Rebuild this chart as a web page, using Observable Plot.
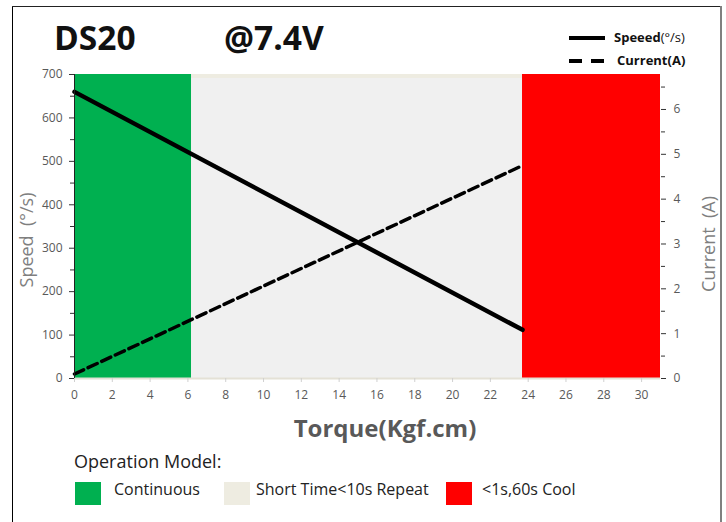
<!DOCTYPE html>
<html>
<head>
<meta charset="utf-8">
<script src="https://cdn.jsdelivr.net/npm/d3@7"></script>
<script src="https://cdn.jsdelivr.net/npm/@observablehq/plot@0.6"></script>
<style>
  html, body { margin: 0; padding: 0; background: #fff; }
  #page { position: relative; width: 726px; height: 522px; overflow: hidden; font-family: "Open Sans", sans-serif; background: #fff; }
  .abs { position: absolute; white-space: nowrap; }
  #frameL { position: absolute; left: 12px; top: 6px; width: 1px; height: 520px; background: #000; }
  #frameT { position: absolute; left: 12px; top: 6px; width: 708px; height: 1px; background: #222; }
  #frameR { position: absolute; left: 720px; top: 6px; width: 2px; height: 520px; background: #808080; }
  #chart { position: absolute; left: 0; top: 0; }
  .title { font-weight: 700; font-size: 33.5px; color: #111; top: 14px; }
  .leg { font-weight: 700; font-size: 13px; color: #111; }
  .leg span { font-weight: 400; }
  .axt { color: #7f7f7f; font-size: 18px; transform: translate(-50%, -50%) rotate(-90deg); }
  .sw { position: absolute; width: 26px; height: 23px; top: 482px; }
  .lt { font-size: 16px; color: #222; top: 478px; }
</style>
</head>
<body>
<div id="page">
  <div id="chart"></div>
  <div id="frameL"></div><div id="frameT"></div><div id="frameR"></div>
  <div class="abs title" style="left:54px;">DS20</div>
  <div class="abs title" style="left:224px;">@7.4V</div>
  <div class="abs leg" style="left:614px; top:28px;">Speeed<span>(°/s)</span></div>
  <div class="abs leg" style="left:617px; top:51px;">Current(A)</div>
  <div class="abs axt" style="left:26px; top:240px;">Speed&nbsp;&nbsp;(°/s)</div>
  <div class="abs axt" style="left:708px; top:244px;">Current&nbsp;&nbsp;(A)</div>
  <div class="abs" style="left:385px; top:427px; transform:translate(-50%,-50%); font-weight:700; font-size:24px; color:#595959;">Torque(Kgf.cm)</div>
  <div class="abs" style="left:74px; top:449px; font-size:18px; color:#222;">Operation Model:</div>
  <div class="sw" style="left:75px; background:#00B050;"></div>
  <div class="abs lt" style="left:114px;">Continuous</div>
  <div class="sw" style="left:224px; background:#EEECE1;"></div>
  <div class="abs lt" style="left:256px;">Short Time&lt;10s Repeat</div>
  <div class="sw" style="left:446px; background:#FF0000;"></div>
  <div class="abs lt" style="left:482px;">&lt;1s,60s Cool</div>
</div>
<script>
// ---- data ----
const torque = [0, 23.7];
const speed = [660, 112];          // °/s
const current = [0.1, 4.75];       // A
const zoneNames = ["Continuous", "Short Time<10s Repeat", "<1s,60s Cool"];
const zoneStart = [0, 6.2, 23.7];
const zoneEnd = [6.2, 23.7, 31];
const xTicks = [0, 2, 4, 6, 8, 10, 12, 14, 16, 18, 20, 22, 24, 26, 28, 30];
const speedTicks = [0, 100, 200, 300, 400, 500, 600, 700];
const speedMinor = [50, 150, 250, 350, 450, 550, 650];
const currentTicks = [0, 1, 2, 3, 4, 5, 6];
const currentMinor = [0.5, 1.5, 2.5, 3.5, 4.5, 5.5, 6.5];
const speedMax = 700;
const currentMax = 6.78;

// ---- styles ----
const zoneColors = ["#00B050", "#EEECE1", "#FF0000"];

const k = speedMax / currentMax;
const zones = zoneNames.map((n, i) => ({name: n, x1: zoneStart[i], x2: zoneEnd[i]}));
const rows = torque.map((t, i) => ({torque: t, speed: speed[i], current: current[i]}));
const mid = zones.filter(d => d.name === zoneNames[1]);

const chart = Plot.plot({
  width: 726, height: 450,
  marginLeft: 74, marginRight: 66, marginTop: 74, marginBottom: 72,
  x: {domain: [0, 31], label: null},
  y: {domain: [0, speedMax], label: null},
  color: {domain: zoneNames, range: zoneColors},
  style: {background: "transparent", fontFamily: "Open Sans, sans-serif", fontSize: "12px", color: "#595959"},
  marks: [
    Plot.rect(zones, {x1: "x1", x2: "x2", y1: 0, y2: speedMax, fill: "name"}),
    Plot.rect(mid, {x1: "x1", x2: "x2", y1: 0, y2: speedMax - 9, fill: "#F0F0F0"}),
    Plot.ruleY([0], {stroke: "#E4E1D6", strokeWidth: 2}),
    Plot.line(rows, {x: "torque", y: "speed", stroke: "#000", strokeWidth: 4.5}),
    Plot.line(rows, {x: "torque", y: d => d.current * k, stroke: "#000", strokeWidth: 3.5, strokeDasharray: "10,5"}),
    Plot.ruleX([0], {stroke: "#222", strokeWidth: 1}),
    Plot.axisY(speedTicks, {anchor: "left", tickSize: 5, tickPadding: 7, stroke: "#333", label: null}),
    Plot.axisY(speedMinor, {anchor: "left", tickSize: 4, tickFormat: () => "", stroke: "#333", label: null}),
    Plot.axisY(currentTicks.map(t => t * k), {anchor: "right", tickSize: 5, tickPadding: 8, stroke: "#333", tickFormat: v => String(Math.round(v / k)), label: null}),
    Plot.axisY(currentMinor.map(t => t * k), {anchor: "right", tickSize: 4, tickFormat: () => "", stroke: "#333", label: null}),
    Plot.axisX(xTicks, {anchor: "bottom", tickSize: 4, tickPadding: 8, stroke: "#D0D0D0", label: null})
  ]
});
document.getElementById("chart").appendChild(chart);

// legend lines (top right)
const leg = d3.select("#page").append("svg")
  .attr("width", 726).attr("height", 80)
  .style("position", "absolute").style("left", 0).style("top", 0);
leg.append("line").attr("x1", 569).attr("x2", 605).attr("y1", 38).attr("y2", 38)
  .attr("stroke", "#000").attr("stroke-width", 4);
leg.append("line").attr("x1", 569).attr("x2", 605).attr("y1", 61).attr("y2", 61)
  .attr("stroke", "#000").attr("stroke-width", 4).attr("stroke-dasharray", "13,9");
</script>
</body>
</html>
